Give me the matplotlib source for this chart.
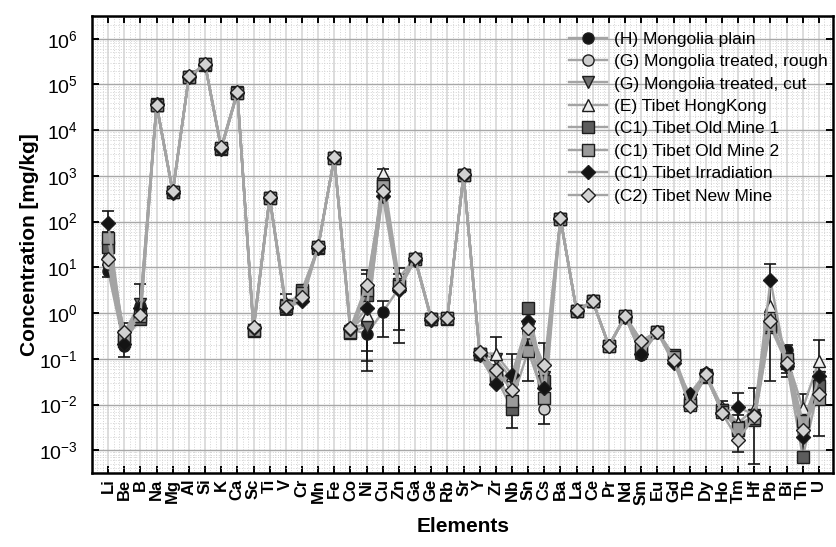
import numpy as np
import matplotlib
matplotlib.use('Agg')
import matplotlib.pyplot as plt
from matplotlib.ticker import FixedLocator, MultipleLocator, LogLocator, NullFormatter

plt.rcParams['font.family'] = ['Liberation Sans', 'DejaVu Sans']
plt.rcParams['mathtext.default'] = 'regular'

# element order along the x axis
elements = ['Li', 'Be', 'B', 'Na', 'Mg', 'Al', 'Si', 'K', 'Ca', 'Sc', 'Ti', 'V', 'Cr', 'Mn',
            'Fe', 'Co', 'Ni', 'Cu', 'Zn', 'Ga', 'Ge', 'Rb', 'Sr', 'Y', 'Zr', 'Nb', 'Sn', 'Cs',
            'Ba', 'La', 'Ce', 'Pr', 'Nd', 'Sm', 'Eu', 'Gd', 'Tb', 'Dy', 'Ho', 'Tm', 'Hf', 'Pb',
            'Bi', 'Th', 'U']

# concentrations in mg/kg, one list per sample (same order as elements)
mongolia_plain = [8.5, 0.19, 1.4, 35000, 430, 148000, 270000, 4000, 66000, 0.45, 335, 1.4, 2.0, 28,
                  2500, 0.45, 0.35, 1.05, 3.5, 15, 0.75, 0.78, 1050, 0.13, 0.035, 0.04, 0.22, 0.03,
                  115, 1.1, 1.8, 0.19, 0.85, 0.12, 0.38, 0.1, 0.013, 0.048, 0.008, 0.0035, 0.0058, 0.8,
                  0.155, 0.0025, 0.035]
mongolia_rough = [12, 0.3, 1.1, 36000, 460, 150000, 280000, 4100, 68000, 0.48, 340, 1.4, 2.2, 29,
                  2550, 0.48, 0.58, 500, 3.8, 15.5, 0.78, 0.8, 1080, 0.135, 0.06, 0.03, 0.37, 0.0079,
                  118, 1.12, 1.8, 0.19, 0.86, 0.2, 0.39, 0.11, 0.011, 0.045, 0.007, 0.003, 0.005, 0.6,
                  0.1, 0.003, 0.03]
mongolia_cut = [20, 0.28, 1.6, 37000, 450, 148000, 275000, 4000, 67000, 0.42, 335, 1.5, 2.5, 28,
                2500, 0.4, 0.5, 550, 4.0, 15, 0.76, 0.78, 1060, 0.13, 0.1, 0.035, 0.45, 0.04,
                116, 1.1, 1.8, 0.19, 0.85, 0.18, 0.38, 0.1, 0.012, 0.044, 0.0075, 0.0032, 0.006, 0.7,
                0.09, 0.004, 0.04]
tibet_hongkong = [22, 0.38, 1.7, 36000, 470, 150000, 280000, 4300, 69000, 0.5, 345, 1.7, 2.4, 29,
                  2600, 0.46, 0.9, 1150, 5.9, 16, 0.8, 0.82, 1100, 0.14, 0.125, 0.045, 0.55, 0.05,
                  120, 1.15, 1.85, 0.2, 0.87, 0.24, 0.4, 0.12, 0.014, 0.046, 0.009, 0.004, 0.008, 1.4,
                  0.11, 0.0083, 0.089]
old_mine_1 = [28, 0.25, 0.75, 35000, 440, 145000, 270000, 3900, 65000, 0.4, 330, 1.3, 3.2, 27,
              2450, 0.37, 2.5, 650, 4.3, 15, 0.74, 0.76, 1040, 0.125, 0.04, 0.008, 1.3, 0.032,
              114, 1.1, 1.8, 0.19, 0.84, 0.15, 0.38, 0.12, 0.011, 0.04, 0.0075, 0.0028, 0.0045, 0.5,
              0.08, 0.0007, 0.025]
old_mine_2 = [45, 0.32, 0.85, 36000, 450, 147000, 275000, 4000, 66000, 0.42, 335, 1.4, 2.8, 28,
              2500, 0.38, 3.2, 600, 4.0, 15, 0.75, 0.78, 1060, 0.13, 0.045, 0.012, 0.15, 0.014,
              116, 1.1, 1.8, 0.19, 0.85, 0.17, 0.38, 0.11, 0.01, 0.042, 0.007, 0.003, 0.005, 0.55,
              0.1, 0.0043, 0.013]
tibet_irradiation = [95, 0.21, 1.3, 37000, 420, 146000, 272000, 3800, 65000, 0.47, 330, 1.3, 1.8, 27,
                     2500, 0.45, 1.3, 360, 3.2, 14.5, 0.72, 0.77, 1050, 0.12, 0.028, 0.045, 0.67, 0.023,
                     115, 1.1, 1.8, 0.19, 0.84, 0.13, 0.38, 0.08, 0.017, 0.05, 0.0065, 0.0087, 0.006, 5.2,
                     0.07, 0.002, 0.042]
tibet_new_mine = [15, 0.38, 0.92, 36000, 470, 150000, 280000, 4300, 69000, 0.49, 345, 1.35, 2.2, 29,
                  2600, 0.47, 4.1, 470, 3.5, 16, 0.78, 0.8, 1100, 0.14, 0.056, 0.021, 0.47, 0.072,
                  120, 1.15, 1.85, 0.19, 0.86, 0.25, 0.39, 0.093, 0.0093, 0.046, 0.0065, 0.0017, 0.0055, 0.67,
                  0.081, 0.0028, 0.017]

# error bar ranges (lower, upper) in mg/kg for the points that carry them
err_plain = {'Li': (6.2, 11), 'Be': (0.11, 0.6), 'Ni': (0.054, 0.6), 'Cu': (0.3, 1.8),
             'Bi': (0.04, 0.2), 'Sm': (0.1, 0.15)}
err_hongkong = {'B': (0.8, 4.3), 'V': (0.9, 2.6), 'Ni': (0.09, 8.7), 'Zn': (0.22, 9.6),
                'Zr': (0.05, 0.3), 'Nb': (0.003, 0.13), 'Cs': (0.0037, 0.22), 'Hf': (0.0005, 0.023),
                'Th': (0.0006, 0.017), 'U': (0.0021, 0.26), 'Cu': (900, 1400), 'Tb': (0.01, 0.02)}
err_old_mine_1 = {'Ni': (0.15, 7), 'Zn': (0.42, 7), 'Sn': (0.032, 1.6), 'Ho': (0.005, 0.012),
                  'Tm': (0.0009, 0.006), 'Gd': (0.08, 0.14), 'Dy': (0.033, 0.05), 'Bi': (0.05, 0.14)}
err_irradiation = {'Li': (60, 170), 'Pb': (0.033, 11.8), 'Tm': (0.004, 0.018)}

series = [
    ('(H) Mongolia plain', mongolia_plain, 'o', '#141414', err_plain),
    ('(G) Mongolia treated, rough', mongolia_rough, 'o', '#cdcdcd', None),
    ('(G) Mongolia treated, cut', mongolia_cut, 'v', '#6e6e6e', None),
    ('(E) Tibet HongKong', tibet_hongkong, '^', '#eeeeee', err_hongkong),
    ('(C1) Tibet Old Mine 1', old_mine_1, 's', '#5c5c5c', err_old_mine_1),
    ('(C1) Tibet Old Mine 2', old_mine_2, 's', '#9a9a9a', None),
    ('(C1) Tibet Irradiation', tibet_irradiation, 'D', '#141414', err_irradiation),
    ('(C2) Tibet New Mine', tibet_new_mine, 'D', '#d2d2d2', None),
]

x = np.arange(1, len(elements) + 1)

fig = plt.figure(figsize=(8.36, 5.47), dpi=100)
ax = fig.add_axes([0.110, 0.135, 0.887, 0.836])

for i, (label, vals, marker, face, err) in enumerate(series):
    vals = np.array(vals, dtype=float)
    ms = 7.5 if marker == 'D' else 8
    ax.plot(x, vals, color='#a4a4a4', lw=1.7, marker=marker, ms=ms,
            mfc=face, mec='#1e1e1e', mew=1.0, label=label, zorder=3 + i * 0.01)
    if err:
        idx = [elements.index(k) for k in err]
        ex = x[idx]
        ev = vals[idx]
        lo = np.array([err[k][0] for k in err])
        hi = np.array([err[k][1] for k in err])
        ax.errorbar(ex, ev, yerr=[ev - lo, hi - ev], fmt='none', ecolor='#141414',
                    elinewidth=1.2, capsize=4, capthick=1.2, zorder=2.8)

ax.set_yscale('log')
ax.set_ylim(10 ** -3.5, 10 ** 6.5)
ax.set_xlim(0, 45.9)

ax.yaxis.set_major_locator(FixedLocator([10.0 ** k for k in range(-3, 7)]))
ax.set_yticklabels(['$10^{%d}$' % k for k in range(-3, 7)], fontsize=14)
ax.yaxis.set_minor_locator(LogLocator(base=10, subs=np.arange(2, 10), numticks=20))
ax.yaxis.set_minor_formatter(NullFormatter())

ax.set_xticks(x)
ax.set_xticklabels(elements, rotation=90, fontsize=12, fontweight='bold')
ax.xaxis.set_minor_locator(MultipleLocator(1 / 3))

ax.tick_params(which='major', direction='in', length=5, width=1.4, top=True, right=True)
ax.tick_params(which='minor', length=0)
ax.tick_params(axis='y', pad=10)
ax.tick_params(axis='x', pad=4)

ax.grid(which='major', axis='y', color='#a8a8a8', lw=1.0, ls='-')
ax.grid(which='major', axis='x', color='#dadada', lw=1.3, ls='-')
ax.grid(which='minor', color='#d4d4d4', lw=0.7, ls=':')
ax.set_axisbelow(True)

for s in ax.spines.values():
    s.set_linewidth(1.8)

ax.set_ylabel('Concentration [mg/kg]', fontsize=15, fontweight='bold', labelpad=0)
ax.set_xlabel('Elements', fontsize=15, fontweight='bold', labelpad=9)

leg = ax.legend(loc='upper right', bbox_to_anchor=(1.013, 1.0), frameon=False, fontsize=12.5,
                labelspacing=0.42, handlelength=2.2, handletextpad=0.4, borderaxespad=0.5)

fig.savefig('out.png', dpi=100)
